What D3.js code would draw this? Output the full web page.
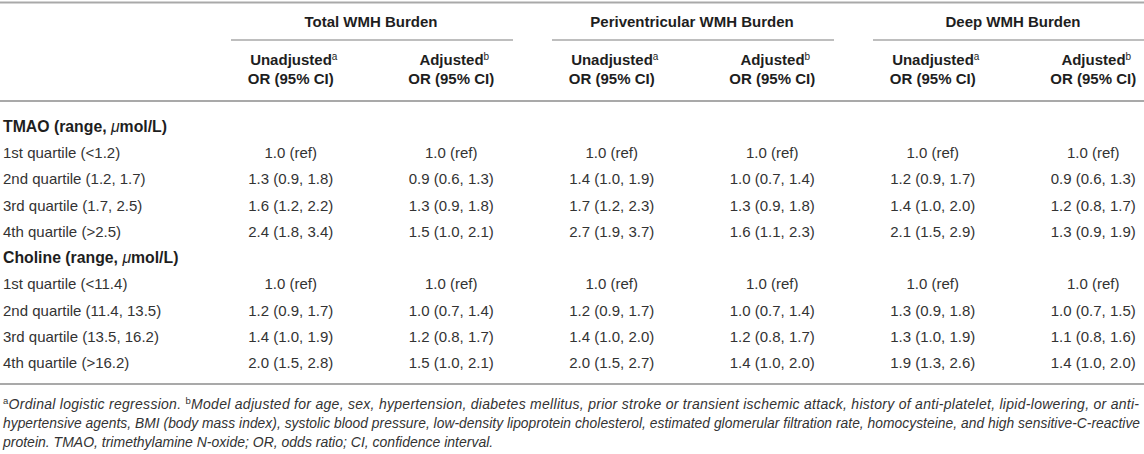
<!DOCTYPE html>
<html>
<head>
<meta charset="utf-8">
<script src="https://cdn.jsdelivr.net/npm/d3@7/dist/d3.min.js"></script>
<style>
  body { margin: 0; background: #fff; }
  svg { display: block; font-family: "Liberation Sans", Arial, sans-serif; }
</style>
</head>
<body>
<svg id="table"></svg>
<script>
// table content
const groups = ["Total WMH Burden", "Periventricular WMH Burden", "Deep WMH Burden"];
const subCols = ["Unadjusted", "Adjusted"];
const subSups = ["a", "b"];
const sectionTitles = ["TMAO", "Choline"];

const tmaoRows = ["1st quartile (<1.2)", "2nd quartile (1.2, 1.7)", "3rd quartile (1.7, 2.5)", "4th quartile (>2.5)"];
const cholineRows = ["1st quartile (<11.4)", "2nd quartile (11.4, 13.5)", "3rd quartile (13.5, 16.2)", "4th quartile (>16.2)"];

// one row per quartile: total unadj, total adj, periv unadj, periv adj, deep unadj, deep adj
const tmaoOR = [
  ["1.0 (ref)", "1.0 (ref)", "1.0 (ref)", "1.0 (ref)", "1.0 (ref)", "1.0 (ref)"],
  ["1.3 (0.9, 1.8)", "0.9 (0.6, 1.3)", "1.4 (1.0, 1.9)", "1.0 (0.7, 1.4)", "1.2 (0.9, 1.7)", "0.9 (0.6, 1.3)"],
  ["1.6 (1.2, 2.2)", "1.3 (0.9, 1.8)", "1.7 (1.2, 2.3)", "1.3 (0.9, 1.8)", "1.4 (1.0, 2.0)", "1.2 (0.8, 1.7)"],
  ["2.4 (1.8, 3.4)", "1.5 (1.0, 2.1)", "2.7 (1.9, 3.7)", "1.6 (1.1, 2.3)", "2.1 (1.5, 2.9)", "1.3 (0.9, 1.9)"]
];
const cholineOR = [
  ["1.0 (ref)", "1.0 (ref)", "1.0 (ref)", "1.0 (ref)", "1.0 (ref)", "1.0 (ref)"],
  ["1.2 (0.9, 1.7)", "1.0 (0.7, 1.4)", "1.2 (0.9, 1.7)", "1.0 (0.7, 1.4)", "1.3 (0.9, 1.8)", "1.0 (0.7, 1.5)"],
  ["1.4 (1.0, 1.9)", "1.2 (0.8, 1.7)", "1.4 (1.0, 2.0)", "1.2 (0.8, 1.7)", "1.3 (1.0, 1.9)", "1.1 (0.8, 1.6)"],
  ["2.0 (1.5, 2.8)", "1.5 (1.0, 2.1)", "2.0 (1.5, 2.7)", "1.4 (1.0, 2.0)", "1.9 (1.3, 2.6)", "1.4 (1.0, 2.0)"]
];

const footnote1 = [["a", true], ["Ordinal logistic regression. ", false], ["b", true],
  ["Model adjusted for age, sex, hypertension, diabetes mellitus, prior stroke or transient ischemic attack, history of anti-platelet, lipid-lowering, or anti-", false]];
const footnote2 = "hypertensive agents, BMI (body mass index), systolic blood pressure, low-density lipoprotein cholesterol, estimated glomerular filtration rate, homocysteine, and high sensitive-C-reactive";
const footnote3 = "protein. TMAO, trimethylamine N-oxide; OR, odds ratio; CI, confidence interval.";

const width = 1144, height = 454;
const ruleColor = "#a9a9a9";
const headColor = "#1e1e1e";
const bodyColor = "#333";
const fs = 15;

const svg = d3.select("#table")
  .attr("width", width)
  .attr("height", height);

// column scales
const xGroup = d3.scaleBand().domain(groups).range([210.5, 1173.5]);
const xSub = d3.scaleBand().domain(subCols).range([0, xGroup.bandwidth()]);
const colX = i => xGroup(groups[Math.floor(i / 2)]) + xSub(subCols[i % 2]) + xSub.bandwidth() / 2;

// flatten the body rows
const rows = [];
sectionTitles.forEach((s, si) => {
  rows.push({ type: "section", label: s });
  const labels = si === 0 ? tmaoRows : cholineRows;
  const vals = si === 0 ? tmaoOR : cholineOR;
  labels.forEach((l, i) => rows.push({ type: "row", label: l, values: vals[i] }));
});
const y = d3.scaleLinear().domain([0, rows.length - 1]).range([132, 368]);

// rules
const hRule = (x1, x2, yy, w) => svg.append("line")
  .attr("x1", x1).attr("x2", x2).attr("y1", yy).attr("y2", yy)
  .attr("stroke", ruleColor).attr("stroke-width", w);

hRule(0, width, 2.5, 2);
hRule(0, width, 101, 2);
hRule(0, width, 384, 2);
groups.forEach(g => hRule(xGroup(g) + 20.5, Math.min(width, xGroup(g) + xGroup.bandwidth() - 18.5), 40, 1.5));

// group titles
svg.selectAll(".group")
  .data(groups)
  .enter()
  .append("text")
  .attr("class", "group")
  .attr("x", g => xGroup(g) + xGroup.bandwidth() / 2)
  .attr("y", 27)
  .attr("text-anchor", "middle")
  .attr("font-size", fs)
  .attr("font-weight", "bold")
  .attr("fill", headColor)
  .text(g => g);

// sub headers
const subIdx = d3.range(groups.length * subCols.length);
const sub1 = svg.selectAll(".sub1")
  .data(subIdx)
  .enter()
  .append("text")
  .attr("class", "sub1")
  .attr("x", i => colX(i) + 3)
  .attr("y", 65)
  .attr("text-anchor", "middle")
  .attr("font-size", fs)
  .attr("font-weight", "bold")
  .attr("fill", headColor);
sub1.append("tspan").text(i => subCols[i % 2]);
sub1.append("tspan")
  .attr("dy", -5)
  .attr("font-size", 10)
  .attr("font-weight", "normal")
  .text(i => subSups[i % 2]);

svg.selectAll(".sub2")
  .data(subIdx)
  .enter()
  .append("text")
  .attr("class", "sub2")
  .attr("x", i => colX(i))
  .attr("y", 84)
  .attr("text-anchor", "middle")
  .attr("font-size", fs)
  .attr("font-weight", "bold")
  .attr("fill", headColor)
  .text("OR (95% CI)");

// row labels
const labels = svg.selectAll(".rowlabel")
  .data(rows)
  .enter()
  .append("text")
  .attr("class", "rowlabel")
  .attr("x", 3)
  .attr("y", (d, i) => y(i))
  .attr("font-size", d => d.type === "section" ? 15.8 : fs)
  .attr("font-weight", d => d.type === "section" ? "bold" : "normal")
  .attr("fill", d => d.type === "section" ? headColor : bodyColor);

labels.filter(d => d.type === "row").text(d => d.label);
const sec = labels.filter(d => d.type === "section");
sec.append("tspan").text(d => d.label + " (range, ");
sec.append("tspan").attr("font-style", "italic").attr("font-weight", "normal").text("\u03bc");
sec.append("tspan").text("mol/L)");

// cell values
rows.forEach((r, ri) => {
  if (r.type !== "row") return;
  svg.selectAll(null)
    .data(r.values)
    .enter()
    .append("text")
    .attr("x", (d, i) => colX(i))
    .attr("y", y(ri))
    .attr("text-anchor", "middle")
    .attr("font-size", fs)
    .attr("fill", bodyColor)
    .text(d => d);
});

// footnotes
const foot = svg.append("g")
  .attr("font-style", "italic")
  .attr("fill", bodyColor);

// shrink a justified line until it fits, then stretch it to the full width
function justify(sel, target) {
  let size = 14;
  sel.attr("font-size", size);
  while (sel.node().getComputedTextLength() > target && size > 10) {
    size -= 0.1;
    sel.attr("font-size", size);
  }
  sel.attr("textLength", target).attr("lengthAdjust", "spacing");
}

const f1 = foot.append("text").attr("x", 3).attr("y", 409);
let up = false;
footnote1.forEach(([t, sup]) => {
  const ts = f1.append("tspan").text(t);
  if (sup) { ts.attr("dy", -5).attr("font-size", 9.5).attr("font-style", "normal"); up = true; }
  else if (up) { ts.attr("dy", 5); up = false; }
});
justify(f1, 1136);

const f2 = foot.append("text").attr("x", 3).attr("y", 428).text(footnote2);
justify(f2, 1137);

foot.append("text")
  .attr("x", 3).attr("y", 447)
  .attr("font-size", 14)
  .text(footnote3);
</script>
</body>
</html>
